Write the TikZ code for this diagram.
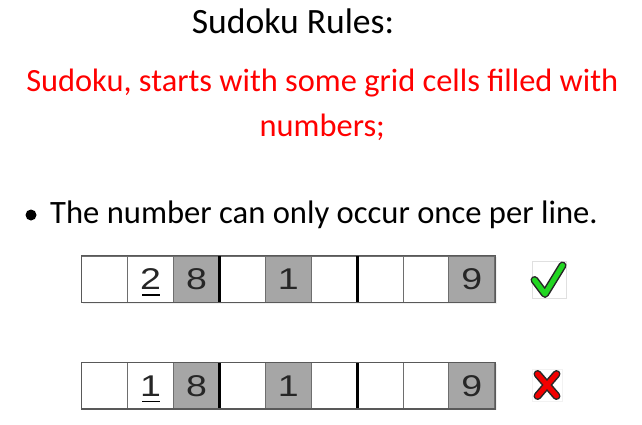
\documentclass[tikz,border=0pt]{standalone}
\usepackage{fontspec}
\usepackage{graphicx}
\setmainfont{Carlito}
\newfontfamily\digitfont{Liberation Sans}
\usetikzlibrary{calc}
\definecolor{cellgray}{HTML}{A6A6A6}
\definecolor{cellline}{HTML}{6E6E6E}
\definecolor{redtext}{HTML}{FF0000}
\definecolor{checkgreen}{HTML}{22D622}
\definecolor{crossred}{HTML}{F20000}
\newcommand\celldigit[1]{\scalebox{1.25}[1]{\digitfont\fontsize{30}{30}\selectfont\color{black!85}#1}}
\tikzset{
  cell/.style={rectangle, draw=cellline, line width=0.9pt, minimum width=45.9pt, minimum height=46pt, inner sep=0pt},
  blockline/.style={draw=black, line width=3pt},
  outerline/.style={draw=black!65, line width=1.4pt},
  uline/.style={draw=black, line width=1.4pt},
  iconbox/.style={rectangle, draw=black!12, fill=white, line width=0.8pt, inner sep=0pt},
  iconoutline/.style={line width=8pt, line cap=round, line join=round, draw=black!85},
}
\begin{document}
\begin{tikzpicture}[x=1pt,y=-1pt]
\useasboundingbox[fill=white] (0,0) rectangle (642,425);

\node[anchor=base, inner sep=0pt, font=\fontsize{35.6}{40}\selectfont] (title) at (293,34) {Sudoku Rules:};
\node[anchor=base, inner sep=0pt, text=redtext, font=\fontsize{32.4}{38}\selectfont] (red1) at (322.3,92) {Sudoku, starts with some grid cells filled with};
\node[anchor=base, inner sep=0pt, text=redtext, font=\fontsize{32.4}{38}\selectfont] (red2) at (322.3,136) {numbers;};

\node[circle, fill=black, minimum size=11pt, inner sep=0pt] (bullet) at (31,215) {};
\node[anchor=base west, inner sep=0pt, font=\fontsize{32.6}{38}\selectfont] (rule) at (50,223) {The number can only occur once per line.};

\foreach \r/\yc/\u in {1/279/2, 2/385.7/1}{
  \fill[black!6] (82.5,\yc-22) rectangle (497,\yc+24.5);
  \foreach \c/\f/\d in {1/white/{},2/white/\u,3/cellgray/8,4/white/{},5/cellgray/1,6/white/{},7/white/{},8/white/{},9/cellgray/9}{
    \node[cell, fill=\f] (r\r-\c) at ({81.7+45.9*(\c-0.5)},\yc) {\celldigit{\d}};
  }
  \draw[blockline] (r\r-3.north east) -- (r\r-3.south east);
  \draw[blockline] (r\r-6.north east) -- (r\r-6.south east);
  \draw[outerline] (r\r-1.north west) rectangle (r\r-9.south east);
  \draw[uline] ($(r\r-2.center)+(-8.5,16)$) -- ($(r\r-2.center)+(9.5,16)$);
}

% check icon
\node[iconbox, minimum width=34pt, minimum height=37pt] (chk) at (549,279.5) {};
\draw[iconoutline] (534.5,280) -- (545,294) -- (562.5,265.5);
\draw[line width=5pt, line cap=round, line join=round, draw=checkgreen] (534.5,280) -- (545,294) -- (562.5,265.5);

% cross icon
\node[iconbox, draw=black!5, minimum width=30pt, minimum height=32pt] (crs) at (547,385) {};
\draw[iconoutline] (537.5,374) -- (556.5,396) (556.5,374) -- (537.5,396);
\draw[line width=5pt, line cap=round, draw=crossred] (537.5,374) -- (556.5,396) (556.5,374) -- (537.5,396);
\end{tikzpicture}
\end{document}
